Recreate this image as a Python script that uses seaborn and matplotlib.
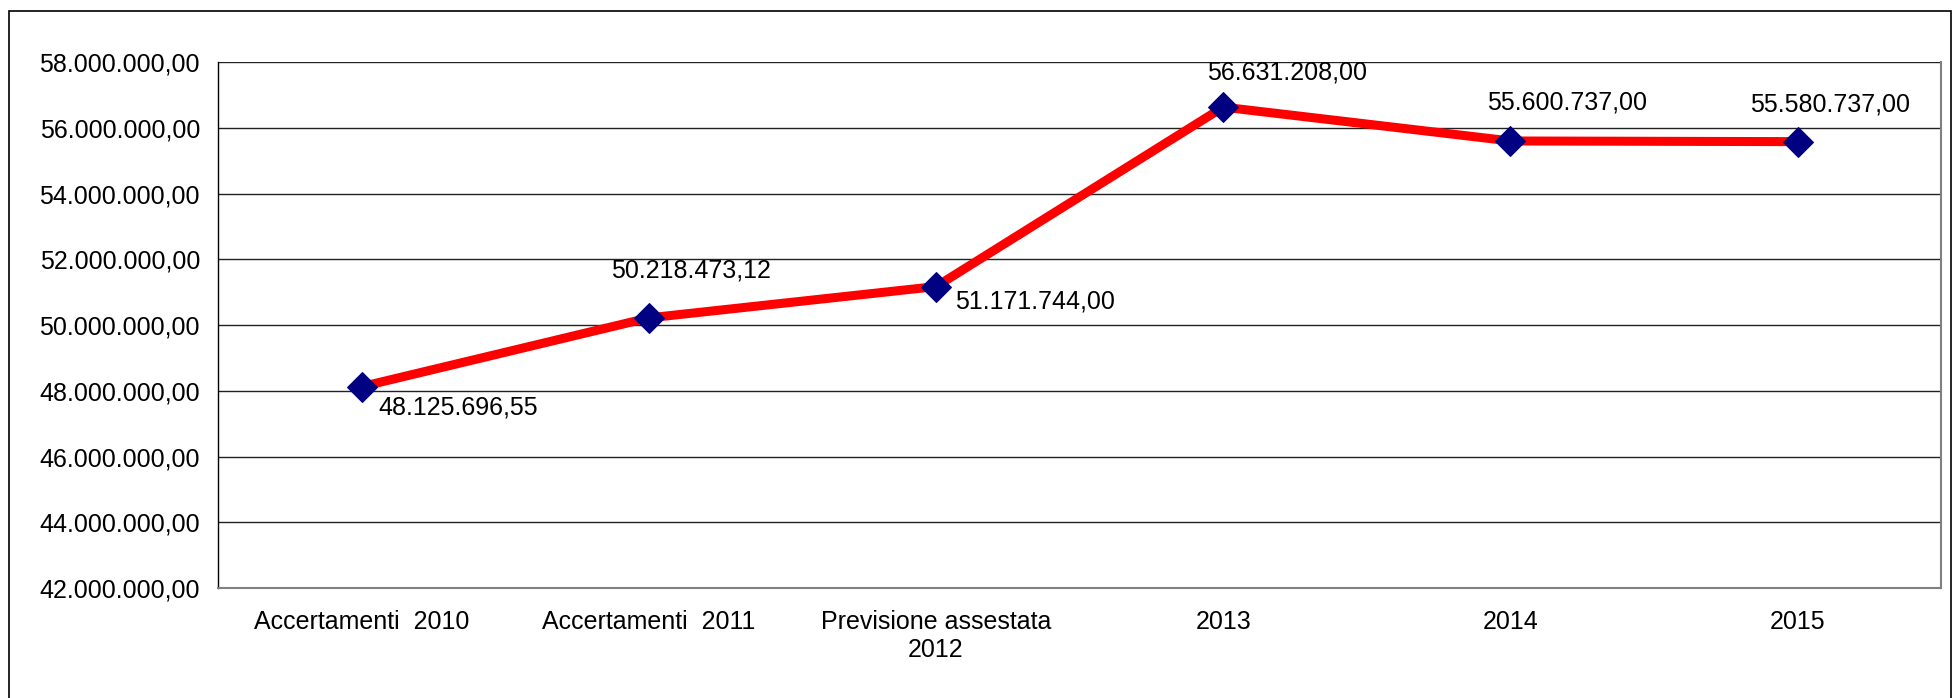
import numpy as np
import pandas as pd
import matplotlib
matplotlib.use("Agg")
import matplotlib.pyplot as plt
from matplotlib.patches import Rectangle
import seaborn as sns

# Dati del grafico
categorie = ["Accertamenti  2010", "Accertamenti  2011", "Previsione assestata\n2012",
             "2013", "2014", "2015"]
valori = [48125696.55, 50218473.12, 51171744.00, 56631208.00, 55600737.00, 55580737.00]
tick_y = [42000000, 44000000, 46000000, 48000000, 50000000, 52000000, 54000000, 56000000, 58000000]


def formato_it(v):
    # 1,234,567.89 -> 1.234.567,89
    s = f"{v:,.2f}"
    return s.replace(",", "X").replace(".", ",").replace("X", ".")


df = pd.DataFrame({"categoria": categorie, "valore": valori})

sns.set_style("white")
plt.rcParams["font.family"] = ["Liberation Sans", "DejaVu Sans"]
plt.rcParams["text.color"] = "black"
plt.rcParams["xtick.color"] = "black"
plt.rcParams["ytick.color"] = "black"
FS = 18

fig = plt.figure(figsize=(19.55, 6.98), dpi=100)
ax = fig.add_axes([0.1115, 0.1576, 0.8815, 0.7534])

# cornice esterna
fig.patches.append(Rectangle((0.0046, -0.01), 0.9934, 0.994, transform=fig.transFigure,
                             fill=False, edgecolor="black", linewidth=1.2))

sns.lineplot(data=df, x="categoria", y="valore", ax=ax, color="#ff0000", linewidth=6.5,
             marker="D", markersize=15.5, markerfacecolor="#000080", markeredgecolor="#000080",
             sort=False)

n = len(categorie)
ax.set_xlim(-0.5, n - 0.5)
ax.set_ylim(tick_y[0], tick_y[-1])

# griglia orizzontale
ax.set_yticks(tick_y)
ax.set_yticklabels([formato_it(v) for v in tick_y], fontsize=FS, color="black")
ax.yaxis.grid(True, color="#222222", linewidth=1.0)
ax.set_axisbelow(True)

# tacche sui confini delle categorie, etichette al centro
ax.set_xticks(np.arange(-0.5, n, 1.0))
ax.set_xticklabels([""] * (n + 1))
ax.set_xticks(np.arange(n), minor=True)
ax.set_xticklabels(categorie, minor=True, fontsize=FS, color="black")
ax.tick_params(axis="x", which="major", direction="out", length=6, color="black", width=1)
ax.tick_params(axis="x", which="minor", length=0, pad=16)
ax.tick_params(axis="y", direction="out", length=5, color="black", width=1, pad=8)
ax.set_xlabel("")
ax.set_ylabel("")

for lato in ["top", "right", "bottom"]:
    ax.spines[lato].set_color("#808080")
    ax.spines[lato].set_linewidth(1.5)
ax.spines["left"].set_color("black")
ax.spines["left"].set_linewidth(1.0)
ax.spines["top"].set_visible(False)

# etichette dei valori
offset = [(12, -15, "left"), (30, 34, "center"), (14, -11, "left"),
          (46, 25, "center"), (41, 28, "center"), (23, 27, "center")]
for i, v in enumerate(valori):
    dx, dy, ha = offset[i]
    ax.annotate(formato_it(v), (i, v), xytext=(dx, dy), textcoords="offset points",
                ha=ha, va="center", fontsize=FS, color="black")

fig.savefig("out.png", dpi=100)
